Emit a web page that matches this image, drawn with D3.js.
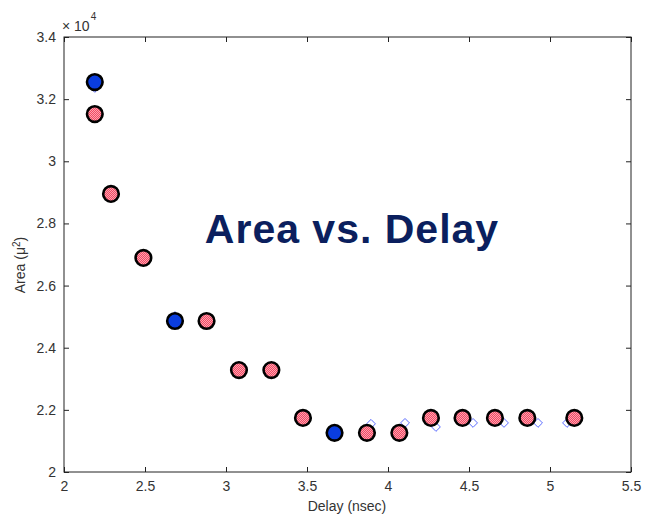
<!DOCTYPE html>
<html>
<head>
<meta charset="utf-8">
<script src="https://cdn.jsdelivr.net/npm/d3@7.9.0/dist/d3.min.js"></script>
<style>
  body { margin: 0; background: #fff; }
  svg { display: block; font-family: "Liberation Sans", Arial, sans-serif; }
</style>
</head>
<body>
<svg width="648" height="515"></svg>
<script>
// ---- data (area in units of 1e4 µm²) ----
const xTicks = [2, 2.5, 3, 3.5, 4, 4.5, 5, 5.5];
const yTicks = [2, 2.2, 2.4, 2.6, 2.8, 3, 3.2, 3.4];

// pareto points (blue)
const delayBlue = [2.19, 2.685, 3.67];
const areaBlue = [3.255, 2.486, 2.126];

// other designs (pink)
const delayPink = [2.19, 2.29, 2.49, 2.88, 3.08, 3.28, 3.475, 3.87, 4.07, 4.265, 4.46, 4.66, 4.86, 5.15];
const areaPink = [3.152, 2.895, 2.689, 2.486, 2.328, 2.328, 2.174, 2.126, 2.126, 2.174, 2.174, 2.174, 2.174, 2.174];

// faint diamond markers behind the circles
const delayDiamond = [2.19, 2.685, 3.895, 4.105, 4.296, 4.525, 4.716, 4.926, 5.105];
const areaDiamond = [3.236, 2.502, 2.155, 2.158, 2.145, 2.158, 2.158, 2.158, 2.158];

const svg = d3.select("svg");
const mLeft = 64, mRight = 631, mTop = 37, mBottom = 472;

let x = d3.scaleLinear().domain([2, 5.5]).range([mLeft, mRight]);
let y = d3.scaleLinear().domain([2, 3.4]).range([mBottom, mTop]);

// pattern for the pink checkered fill
let defs = svg.append("defs");
let pat = defs.append("pattern")
  .attr("id", "pinkCheck")
  .attr("width", 2).attr("height", 2)
  .attr("patternUnits", "userSpaceOnUse");
pat.append("rect").attr("width", 2).attr("height", 2).attr("fill", "#f04a64");
pat.append("rect").attr("width", 1).attr("height", 1).attr("fill", "#ffa2b0");
pat.append("rect").attr("x", 1).attr("y", 1).attr("width", 1).attr("height", 1).attr("fill", "#ffa2b0");

// box
svg.append("rect")
  .attr("x", mLeft).attr("y", mTop)
  .attr("width", mRight - mLeft).attr("height", mBottom - mTop)
  .attr("fill", "none").attr("stroke", "#222").attr("stroke-width", 1);

// axes with inward ticks (on all four sides)
let tickLen = 5;
let axisX = d3.axisBottom(x).tickValues(xTicks).tickSize(-tickLen).tickPadding(9).tickFormat(d3.format("~g"));
let axisY = d3.axisLeft(y).tickValues(yTicks).tickSize(-tickLen).tickPadding(8).tickFormat(d3.format("~g"));

svg.append("g").attr("transform", `translate(0,${mBottom})`).call(axisX);
svg.append("g").attr("transform", `translate(${mLeft},0)`).call(axisY);
svg.append("g").attr("transform", `translate(0,${mTop})`)
  .call(d3.axisTop(x).tickValues(xTicks).tickSize(-tickLen).tickFormat(""));
svg.append("g").attr("transform", `translate(${mRight},0)`)
  .call(d3.axisRight(y).tickValues(yTicks).tickSize(-tickLen).tickFormat(""));

svg.selectAll(".domain").remove();
svg.selectAll(".tick line").attr("stroke", "#222");
svg.selectAll(".tick text")
  .attr("font-size", 14)
  .attr("fill", "#333")
  .attr("font-family", "Liberation Sans, Arial, sans-serif");

// axis labels
svg.append("text")
  .attr("x", 347).attr("y", 511)
  .attr("text-anchor", "middle")
  .attr("font-size", 14).attr("fill", "#333")
  .text("Delay (nsec)");

let yl = svg.append("text")
  .attr("transform", "translate(25,265) rotate(-90)")
  .attr("text-anchor", "middle")
  .attr("font-size", 14).attr("fill", "#333");
yl.append("tspan").text("Area (\u03BC");
yl.append("tspan").attr("dy", -5).attr("font-size", 10).text("2");
yl.append("tspan").attr("dy", 5).text(")");

// exponent label
let ex = svg.append("text")
  .attr("x", 62).attr("y", 31)
  .attr("font-size", 14).attr("fill", "#333");
ex.append("tspan").text("\u00D7 10");
ex.append("tspan").attr("dx", 1).attr("dy", -11).attr("font-size", 10).text("4");

// diamonds
let diamond = d3.symbol().type(d3.symbolDiamond2).size(50);
svg.append("g").selectAll("path")
  .data(delayDiamond.map((d, i) => [d, areaDiamond[i]]))
  .join("path")
  .attr("d", diamond)
  .attr("transform", (d) => `translate(${x(d[0])},${y(d[1])})`)
  .attr("fill", "none")
  .attr("stroke", "#5a6bff")
  .attr("stroke-width", 1);

// pink circles
svg.append("g").selectAll("circle")
  .data(delayPink.map((d, i) => [d, areaPink[i]]))
  .join("circle")
  .attr("cx", (d) => x(d[0]))
  .attr("cy", (d) => y(d[1]))
  .attr("r", 7.8)
  .attr("fill", "url(#pinkCheck)")
  .attr("stroke", "#000")
  .attr("stroke-width", 2.6);

// blue circles
svg.append("g").selectAll("circle")
  .data(delayBlue.map((d, i) => [d, areaBlue[i]]))
  .join("circle")
  .attr("cx", (d) => x(d[0]))
  .attr("cy", (d) => y(d[1]))
  .attr("r", 7.8)
  .attr("fill", "#0a3ddf")
  .attr("stroke", "#000")
  .attr("stroke-width", 2.6);

// title
svg.append("text")
  .attr("x", 352).attr("y", 243)
  .attr("text-anchor", "middle")
  .attr("font-size", 41)
  .attr("font-weight", "bold")
  .attr("letter-spacing", 1)
  .attr("fill", "#0b1f5e")
  .text("Area vs. Delay");
</script>
</body>
</html>
